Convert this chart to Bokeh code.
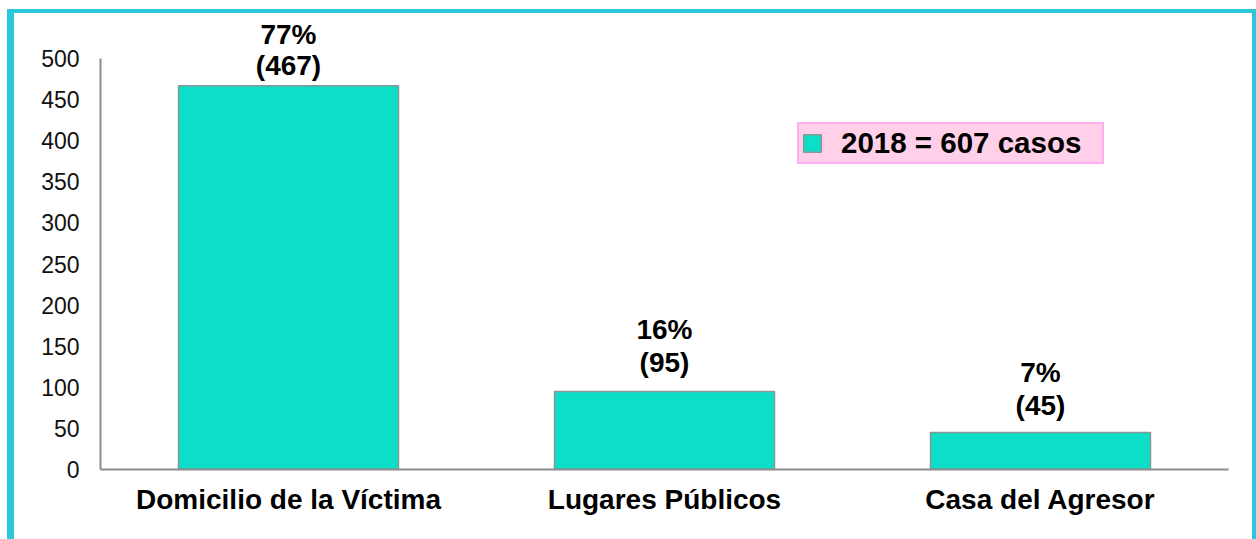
from bokeh.plotting import figure
from bokeh.models import (ColumnDataSource, FactorRange, FixedTicker, Legend,
                          LegendItem)
from bokeh.core.properties import value
from bokeh.embed import file_html
from bokeh.resources import INLINE

# ---- data ----
categories = ["Domicilio de la Víctima", "Lugares Públicos", "Casa del Agresor"]
cases = [467, 95, 45]
year = "2018"
y_ticks = [0, 50, 100, 150, 200, 250, 300, 350, 400, 450, 500]

total = sum(cases)
pct_labels = [f"{round(v / total * 100)}%" for v in cases]
count_labels = [f"({v})" for v in cases]

# ---- styles ----
FRAME = "#29C9D9"
BAR = "#0CDEC8"
FONT = "Liberation Sans"
pct_offsets = [-51, -62, -60]
cnt_offsets = [-20, -29, -27]

AXIS_MAX = 500
# plot area reaches above the 500 tick so that labels are not clipped
Y_END = AXIS_MAX * 455 / 410

source = ColumnDataSource(dict(cat=categories, val=cases, pct=pct_labels,
                               cnt=count_labels, po=pct_offsets, co=cnt_offsets))

p = figure(x_range=FactorRange(factors=categories, range_padding=0),
           y_range=(0, Y_END), width=1249, height=530,
           output_backend="svg", toolbar_location=None,
           min_border_left=86, min_border_right=35,
           min_border_top=0, min_border_bottom=74)
p.styles = {"margin-left": "7px", "margin-top": "9px",
            "border-left": f"7px solid {FRAME}",
            "border-top": f"4px solid {FRAME}",
            "border-right": f"4px solid {FRAME}"}
p.outline_line_color = None
p.xgrid.grid_line_color = None
p.ygrid.grid_line_color = None
p.background_fill_color = "white"
p.border_fill_color = "white"

bars = p.vbar(x="cat", top="val", width=0.585, source=source,
              fill_color=BAR, line_color="#8A9696", line_width=1.5)

p.text(x="cat", y="val", text="pct", y_offset="po", source=source,
       text_align="center", text_baseline="middle",
       text_font=value(FONT), text_font_style="bold",
       text_font_size="28px", text_color="black")
p.text(x="cat", y="val", text="cnt", y_offset="co", source=source,
       text_align="center", text_baseline="middle",
       text_font=value(FONT), text_font_style="bold",
       text_font_size="28px", text_color="black")

# axes
p.yaxis.ticker = FixedTicker(ticks=y_ticks)
p.yaxis.bounds = (0, AXIS_MAX)
p.yaxis.minor_tick_line_color = None
p.yaxis.major_tick_line_color = None
p.yaxis.axis_line_color = "#8C8C8C"
p.yaxis.axis_line_width = 2
p.yaxis.major_label_text_font = FONT
p.yaxis.major_label_text_font_size = "23px"
p.yaxis.major_label_text_color = "#111111"
p.yaxis.major_label_standoff = 15

p.xaxis.major_tick_line_color = None
p.xaxis.minor_tick_line_color = None
p.xaxis.axis_line_color = "#8C8C8C"
p.xaxis.axis_line_width = 2
p.xaxis.major_label_text_font = FONT
p.xaxis.major_label_text_font_style = "bold"
p.xaxis.major_label_text_font_size = "28px"
p.xaxis.major_label_text_color = "black"
p.xaxis.major_label_standoff = 8

legend = Legend(items=[LegendItem(label=f"{year} = {total} casos", renderers=[bars])],
                location=(697, 305), orientation="vertical",
                background_fill_color="#FFD0E8", background_fill_alpha=1,
                border_line_color="#FF8CF5", border_line_width=2,
                padding=2, margin=0, glyph_width=22, glyph_height=22,
                label_standoff=18, label_width=259,
                label_text_font=FONT, label_text_font_style="bold",
                label_text_font_size="29.5px", label_text_color="black")
p.add_layout(legend, "center")

open("out.html", "w").write(file_html(p, INLINE))
